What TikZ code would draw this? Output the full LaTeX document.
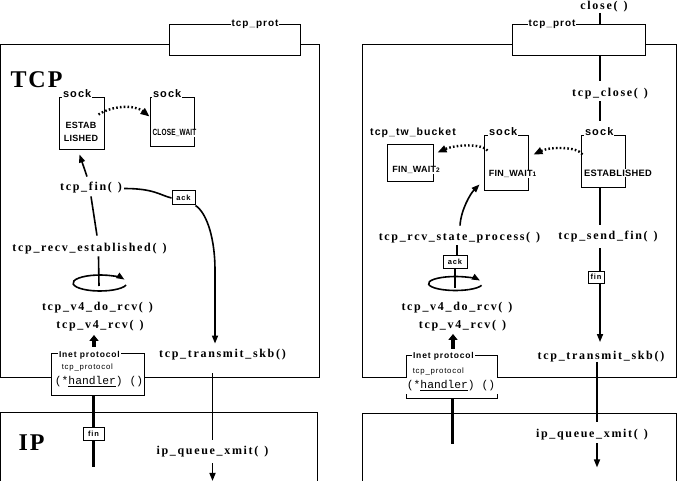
\documentclass[tikz,border=0pt]{standalone}
\usepackage{fontspec}
\setmainfont{Liberation Sans}
\newfontfamily\codefont{Liberation Serif}[LetterSpace=14]
\newfontfamily\lblfont{Liberation Sans}[LetterSpace=10]
\newfontfamily\stfont{Liberation Sans}[LetterSpace=3]
\newfontfamily\hmono{Liberation Mono}
\newfontfamily\bigserif{Liberation Serif}[LetterSpace=8]
\newcommand{\gp}{\hspace{6pt}}
\usetikzlibrary{arrows.meta,calc}
\pgfdeclarelayer{bg}
\pgfsetlayers{bg,main}
\tikzset{
  boxline/.style={draw=black,line width=1pt},
  code/.style={font={\codefont\bfseries\fontsize{12}{14}\selectfont},inner sep=0pt,text height=7.5pt,text depth=2pt},
  lbl/.style={font={\lblfont\bfseries\fontsize{#1}{#1}\selectfont},inner sep=0.8pt,fill=white},
  lbl/.default=10,
  st/.style={font={\stfont\bfseries\fontsize{#1}{#1}\selectfont},inner sep=0.6pt},
  sf/.style={font={\lblfont\fontsize{#1}{#1}\selectfont},inner sep=0.6pt},
  bigtxt/.style={font={\bigserif\bfseries\fontsize{24}{24}\selectfont},inner sep=0pt},
  hand/.style={font={\hmono\fontsize{11.3}{12}\selectfont},inner sep=0.5pt},
  protbox/.style={draw,fill=white,line width=1pt,inner sep=0pt},
  sbox/.style={draw,line width=1pt,inner sep=0pt},
  ibox/.style={draw,fill=white,line width=1pt,inner sep=0pt},
  smallbox/.style={draw,fill=white,line width=1pt,inner sep=0pt,font={\lblfont\bfseries\fontsize{7.5}{8}\selectfont}},
  conn/.style={line width=1.6pt},
  thickc/.style={line width=3.2pt},
  arrowtip/.style={-{Triangle[length=8pt,width=6pt]}},
  thicktip/.style={-{Triangle[length=6pt,width=9pt]}},
  dotc/.style={line width=2.4pt,dash pattern=on 1.6pt off 2.2pt,-{Triangle[length=9pt,width=7pt]}}
}
\begin{document}
\begin{tikzpicture}[x=1pt,y=-1pt]
\useasboundingbox (0,0) rectangle (677,481);
% outer layer frames
\draw[boxline] (0.5,45) rectangle (319,377);
\draw[boxline] (0.5,481) -- (0.5,412) -- (317,412) -- (317,481);
\draw[boxline] (362,45) rectangle (676,377);
\draw[boxline] (362,481) -- (362,413) -- (676,413) -- (676,481);

% ---------- left ----------
\node[protbox,minimum width=131pt,minimum height=31pt] (protL) at (234.5,40.5) {};
\node[lbl=10] (protLt) at (255,24.5) {tcp\_prot};
\node[bigtxt] (tcpL) at (36.5,80) {TCP};
\node[bigtxt] (ipL) at (31.5,443) {IP};

\node[sbox,minimum width=45pt,minimum height=52pt] (estab) at (81.5,124) {};
\node[lbl=11,anchor=base west] (estabsock) at (62,98) {sock};
\node[st=9] (estabt1) at (81,125) {ESTAB};
\node[st=9] (estabt2) at (81,138) {LISHED};
\node[sbox,minimum width=44pt,minimum height=49pt] (closew) at (172,122.5) {};
\node[lbl=11,anchor=base west] (closewsock) at (152,98) {sock};
\node[st=9,fill=white] (closewt) at (174.5,133) {\scalebox{0.72}[1]{CLOSE\_WAIT}};

\node[code] (fin) at (91,188) {tcp\_fin(\gp)};
\node[code] (recv) at (89.5,249) {tcp\_recv\_established(\gp)};
\coordinate (ellL) at (100,283);
\node[code] (v4doL) at (97.5,308) {tcp\_v4\_do\_rcv(\gp)};
\node[code] (v4rcvL) at (100,326) {tcp\_v4\_rcv(\gp)};
\node[code] (xmitL) at (222.5,355) {tcp\_transmit\_skb()};
\node[code] (ipqL) at (212.5,452) {ip\_queue\_xmit(\gp)};

\node[ibox,minimum width=93pt,minimum height=42pt] (inetL) at (97.5,374) {};
\node[lbl=8.5,anchor=west] (inetLt) at (58,355.5) {Inet protocol};
\node[sf=7.8,anchor=west] (inetLp) at (61,367) {tcp\_protocol};
\node[hand] (inetLh) at (99,382) {(*\underline{handler}) ()};

\node[smallbox,minimum width=23pt,minimum height=14pt] (ackL) at (183.5,198) {ack};
\node[smallbox,minimum width=21pt,minimum height=13pt] (finL) at (93.5,433.5) {fin};

% ---------- right ----------
\node[protbox,minimum width=133pt,minimum height=31pt] (protR) at (578.5,40.5) {};
\node[lbl=10] (protRt) at (552,24.5) {tcp\_prot};
\node[code] (close) at (604,6.5) {close(\gp)};
\node[code] (tcpclose) at (610,94) {tcp\_close(\gp)};

\node[lbl=10.5] (twb) at (413,133) {tcp\_tw\_bucket};
\node[sbox,minimum width=46pt,minimum height=37pt] (fw2) at (410,163.5) {};
\node[st=9,fill=white] (fw2t) at (416,170) {FIN\_WAIT{\fontsize{6.5}{6.5}\selectfont 2}};
\node[sbox,minimum width=44pt,minimum height=55pt] (fw1) at (506,163.5) {};
\node[lbl=11,anchor=base west] (fw1sock) at (488,136) {sock};
\node[st=9,fill=white] (fw1t) at (512.5,174) {FIN\_WAIT{\fontsize{6.5}{6.5}\selectfont 1}};
\node[sbox,minimum width=44pt,minimum height=52pt] (estR) at (603,162) {};
\node[lbl=11,anchor=base west] (estRsock) at (584,136) {sock};
\node[st=9.3,fill=white] (estRt) at (618,173) {ESTABLISHED};

\node[code] (rcvst) at (459.5,238) {tcp\_rcv\_state\_process(\gp)};
\node[code] (sendfin) at (608,237) {tcp\_send\_fin(\gp)};
\node[smallbox,minimum width=24pt,minimum height=13pt] (ackR) at (455,261.5) {ack};
\coordinate (ellR) at (455.5,283.5);
\node[smallbox,minimum width=16pt,minimum height=12pt] (finR) at (596,277) {fin};
\node[code] (v4doR) at (457,308) {tcp\_v4\_do\_rcv(\gp)};
\node[code] (v4rcvR) at (462.5,326) {tcp\_v4\_rcv(\gp)};
\node[code] (xmitR) at (601,357) {tcp\_transmit\_skb()};
\node[code] (ipqR) at (592,435) {ip\_queue\_xmit(\gp)};

\node[ibox,minimum width=91pt,minimum height=43pt] (inetR) at (451.5,376.5) {};
\node[lbl=8.5,anchor=west] (inetRt) at (412,356.5) {Inet protocol};
\node[sf=7.8,anchor=west] (inetRp) at (412,371) {tcp\_protocol};
\node[hand,fill=white,minimum width=96pt,inner ysep=3pt] (inetRh) at (451,386) {(*\underline{handler}) ()};

% ---------- connectors ----------
\begin{pgfonlayer}{bg}
% left
\draw[conn,arrowtip] ($(fin.north)+(-4,-6.5)$) -- ($(estab.south)+(-2,4)$);
\draw[conn] ($(recv.north)+(7.5,-8.5)$) -- ($(fin.south)+(0,3.5)$);
\draw[conn] ($(fin.east)+(2,0.5)$) .. controls +(30,0) and +(-12,-3) .. (ackL.west);
\draw[conn,arrowtip] (ackL.south east) .. controls +(12,8) and +(0,-30) .. ($(xmitL.north)+(-7.5,-80)$) -- ($(xmitL.north)+(-7.5,-6.5)$);
\draw[conn] ($(xmitL.south)+(-10,13.5)$) -- ($(ipqL.north)+(0,-7.5)$);
\draw[conn,arrowtip] ($(ipqL.south)+(0,6.5)$) -- ($(ipqL.south)+(0,24)$);
\draw[conn] ($(recv.south)+(9,2.5)$) -- ($(ellL)+(-1,3)$);
\draw[conn,arrowtip] ($(ellL)+(15:27 and 8)$) arc[start angle=15,end angle=335,x radius=27,y radius=8];
\draw[thickc,thicktip] ($(inetL.north)+(-3.5,-6)$) -- ($(v4rcvL.south)+(-6,4)$);
\draw[thickc] ($(inetL.south)+(-4,0)$) -- ($(inetL.south)+(-4,71)$);
\draw[dotc] ($(estab.north east)+(-6,17)$) .. controls +(14,-9) and +(-15,-12) .. ($(closew.north west)+(0,19)$);
% right
\draw[conn] ($(close.south)+(-4,1.5)$) -- ($(tcpclose.north)+(-10,-8.5)$);
\draw[conn] ($(tcpclose.south)+(-10,2.5)$) -- ($(estR.north)+(-3,-14)$);
\draw[conn] ($(estR.south)+(-3,0)$) -- ($(sendfin.north)+(-8,-7.5)$);
\draw[conn,arrowtip] ($(sendfin.south)+(-8,6.5)$) -- ($(xmitR.north)+(-1,-10)$);
\draw[conn] ($(xmitR.south)+(-4,0)$) -- ($(ipqR.north)+(5,-8.5)$);
\draw[conn,arrowtip] ($(ipqR.south)+(5,3.5)$) -- ($(ipqR.south)+(5,27.5)$);
\draw[conn,arrowtip] ($(rcvst.north)+(0.5,-7.5)$) .. controls +(1,-16) and +(-9,9) .. ($(fw1.south west)+(-4,-7)$);
\draw[conn] ($(rcvst.south)+(-2.5,2.5)$) -- ($(ackR.north)+(2,0)$);
\draw[conn] (ackR.south) -- ($(ellR)+(-0.5,4.5)$);
\draw[conn,arrowtip] ($(ellR)+(15:27 and 7)$) arc[start angle=15,end angle=335,x radius=27,y radius=7];
\draw[thickc,thicktip] ($(inetR.north)+(1.5,-6)$) -- ($(v4rcvR.south)+(-9.5,3)$);
\draw[thickc] ($(inetR.south)+(1,0)$) -- ($(inetR.south)+(1,45)$);
\draw[dotc] ($(estR.north west)+(2,19)$) .. controls +(-5,-8) and +(17,-8) .. ($(fw1.north east)+(5,19)$);
\draw[dotc] ($(fw1.north west)+(4,15)$) .. controls +(-5,-7) and +(18,-8) .. ($(fw2.north east)+(4,8)$);
\end{pgfonlayer}
\end{tikzpicture}
\end{document}
